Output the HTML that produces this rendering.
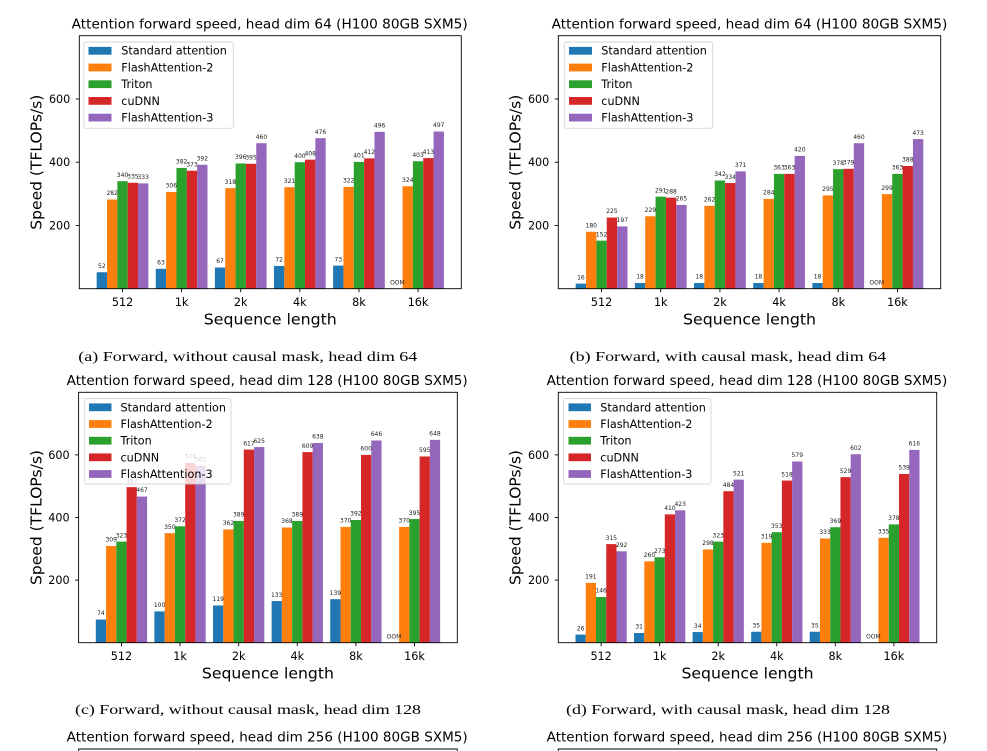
<!DOCTYPE html>
<html><head><meta charset="utf-8"><style>
html,body{margin:0;padding:0;background:#fff;}
svg{display:block;}
text{font-family:"DejaVu Sans","Liberation Sans",sans-serif;fill:#000;}
.c0{fill:#1f77b4}.c1{fill:#ff7f0e}.c2{fill:#2ca02c}.c3{fill:#d62728}.c4{fill:#9467bd}
.bl{font-size:6px;text-anchor:middle;fill:#222}
.tk{font-size:11.2px;text-anchor:middle}
.yt{font-size:11.2px;text-anchor:end}
.lg{font-size:11.2px}
.ti{font-size:13.5px}
.xl{font-size:15.5px;text-anchor:middle}
.yl{font-size:15.5px;text-anchor:middle}
.cap{font-family:"Liberation Serif","DejaVu Serif",serif;font-size:14px}
.sp{fill:none;stroke:#000;stroke-width:0.9}
.tm{stroke:#000;stroke-width:0.9}
.lb{fill:#fff;fill-opacity:0.8;stroke:#ccc;stroke-opacity:0.8;stroke-width:0.9}
</style></head><body>
<svg width="987" height="751" viewBox="0 0 987 751" xmlns="http://www.w3.org/2000/svg">
<rect width="987" height="751" fill="#fff"/>

<!-- ================= CHART A ================= -->
<text class="ti" x="71.7" y="28.4" textLength="396" lengthAdjust="spacingAndGlyphs">Attention forward speed, head dim 64 (H100 80GB SXM5)</text>
<g transform="translate(96.66,288.7) scale(1,0.31625)">
<rect class="c0" x="0" y="-52" width="10.34" height="52"/><rect class="c1" x="10.34" y="-282" width="10.34" height="282"/><rect class="c2" x="20.68" y="-340" width="10.34" height="340"/><rect class="c3" x="31.02" y="-335" width="10.34" height="335"/><rect class="c4" x="41.36" y="-333" width="10.34" height="333"/>
<text class="bl" transform="translate(5.17,-52) scale(1,3.16206)" y="-4.3">52</text><text class="bl" transform="translate(15.51,-282) scale(1,3.16206)" y="-4.3">282</text><text class="bl" transform="translate(25.85,-340) scale(1,3.16206)" y="-4.3">340</text><text class="bl" transform="translate(36.19,-335) scale(1,3.16206)" y="-4.3">335</text><text class="bl" transform="translate(46.53,-333) scale(1,3.16206)" y="-4.3">333</text>
</g>
<g transform="translate(155.77,288.7) scale(1,0.31625)">
<rect class="c0" x="0" y="-63" width="10.34" height="63"/><rect class="c1" x="10.34" y="-306" width="10.34" height="306"/><rect class="c2" x="20.68" y="-382" width="10.34" height="382"/><rect class="c3" x="31.02" y="-373" width="10.34" height="373"/><rect class="c4" x="41.36" y="-392" width="10.34" height="392"/>
<text class="bl" transform="translate(5.17,-63) scale(1,3.16206)" y="-4.3">63</text><text class="bl" transform="translate(15.51,-306) scale(1,3.16206)" y="-4.3">306</text><text class="bl" transform="translate(25.85,-382) scale(1,3.16206)" y="-4.3">382</text><text class="bl" transform="translate(36.19,-373) scale(1,3.16206)" y="-4.3">373</text><text class="bl" transform="translate(46.53,-392) scale(1,3.16206)" y="-4.3">392</text>
</g>
<g transform="translate(214.88,288.7) scale(1,0.31625)">
<rect class="c0" x="0" y="-67" width="10.34" height="67"/><rect class="c1" x="10.34" y="-318" width="10.34" height="318"/><rect class="c2" x="20.68" y="-396" width="10.34" height="396"/><rect class="c3" x="31.02" y="-395" width="10.34" height="395"/><rect class="c4" x="41.36" y="-460" width="10.34" height="460"/>
<text class="bl" transform="translate(5.17,-67) scale(1,3.16206)" y="-4.3">67</text><text class="bl" transform="translate(15.51,-318) scale(1,3.16206)" y="-4.3">318</text><text class="bl" transform="translate(25.85,-396) scale(1,3.16206)" y="-4.3">396</text><text class="bl" transform="translate(36.19,-395) scale(1,3.16206)" y="-4.3">395</text><text class="bl" transform="translate(46.53,-460) scale(1,3.16206)" y="-4.3">460</text>
</g>
<g transform="translate(273.99,288.7) scale(1,0.31625)">
<rect class="c0" x="0" y="-72" width="10.34" height="72"/><rect class="c1" x="10.34" y="-321" width="10.34" height="321"/><rect class="c2" x="20.68" y="-400" width="10.34" height="400"/><rect class="c3" x="31.02" y="-408" width="10.34" height="408"/><rect class="c4" x="41.36" y="-476" width="10.34" height="476"/>
<text class="bl" transform="translate(5.17,-72) scale(1,3.16206)" y="-4.3">72</text><text class="bl" transform="translate(15.51,-321) scale(1,3.16206)" y="-4.3">321</text><text class="bl" transform="translate(25.85,-400) scale(1,3.16206)" y="-4.3">400</text><text class="bl" transform="translate(36.19,-408) scale(1,3.16206)" y="-4.3">408</text><text class="bl" transform="translate(46.53,-476) scale(1,3.16206)" y="-4.3">476</text>
</g>
<g transform="translate(333.10,288.7) scale(1,0.31625)">
<rect class="c0" x="0" y="-73" width="10.34" height="73"/><rect class="c1" x="10.34" y="-322" width="10.34" height="322"/><rect class="c2" x="20.68" y="-401" width="10.34" height="401"/><rect class="c3" x="31.02" y="-412" width="10.34" height="412"/><rect class="c4" x="41.36" y="-496" width="10.34" height="496"/>
<text class="bl" transform="translate(5.17,-73) scale(1,3.16206)" y="-4.3">73</text><text class="bl" transform="translate(15.51,-322) scale(1,3.16206)" y="-4.3">322</text><text class="bl" transform="translate(25.85,-401) scale(1,3.16206)" y="-4.3">401</text><text class="bl" transform="translate(36.19,-412) scale(1,3.16206)" y="-4.3">412</text><text class="bl" transform="translate(46.53,-496) scale(1,3.16206)" y="-4.3">496</text>
</g>
<g transform="translate(392.21,288.7) scale(1,0.31625)">
<rect class="c1" x="10.34" y="-324" width="10.34" height="324"/><rect class="c2" x="20.68" y="-403" width="10.34" height="403"/><rect class="c3" x="31.02" y="-413" width="10.34" height="413"/><rect class="c4" x="41.36" y="-497" width="10.34" height="497"/>
<text class="bl" transform="translate(5.17,0) scale(1,3.16206)" y="-4.3">OOM</text><text class="bl" transform="translate(15.51,-324) scale(1,3.16206)" y="-4.3">324</text><text class="bl" transform="translate(25.85,-403) scale(1,3.16206)" y="-4.3">403</text><text class="bl" transform="translate(36.19,-413) scale(1,3.16206)" y="-4.3">413</text><text class="bl" transform="translate(46.53,-497) scale(1,3.16206)" y="-4.3">497</text>
</g>
<rect class="sp" x="79.3" y="35.7" width="382" height="253"/>
<g class="tm">
<line x1="122.51" y1="288.7" x2="122.51" y2="292.2"/><line x1="181.62" y1="288.7" x2="181.62" y2="292.2"/><line x1="240.73" y1="288.7" x2="240.73" y2="292.2"/><line x1="299.84" y1="288.7" x2="299.84" y2="292.2"/><line x1="358.95" y1="288.7" x2="358.95" y2="292.2"/><line x1="418.06" y1="288.7" x2="418.06" y2="292.2"/>
<line x1="75.8" y1="225.45" x2="79.3" y2="225.45"/><line x1="75.8" y1="162.2" x2="79.3" y2="162.2"/><line x1="75.8" y1="98.95" x2="79.3" y2="98.95"/>
</g>
<text class="tk" x="122.51" y="306">512</text><text class="tk" x="181.62" y="306">1k</text><text class="tk" x="240.73" y="306">2k</text><text class="tk" x="299.84" y="306">4k</text><text class="tk" x="358.95" y="306">8k</text><text class="tk" x="418.06" y="306">16k</text>
<text class="yt" x="70.3" y="229.45">200</text><text class="yt" x="70.3" y="166.2">400</text><text class="yt" x="70.3" y="102.95">600</text>
<text class="xl" x="270.3" y="324.3" textLength="133" lengthAdjust="spacingAndGlyphs">Sequence length</text>
<text class="yl" transform="translate(41.6,162.2) rotate(-90)" textLength="135" lengthAdjust="spacingAndGlyphs">Speed (TFLOPs/s)</text>
<rect class="lb" x="83.8" y="42" width="149.5" height="86.3" rx="2.5"/>
<rect class="c0" x="88.5" y="46.9" width="23" height="7.8"/><rect class="c1" x="88.5" y="63.6" width="23" height="7.8"/><rect class="c2" x="88.5" y="80.3" width="23" height="7.8"/><rect class="c3" x="88.5" y="97" width="23" height="7.8"/><rect class="c4" x="88.5" y="113.7" width="23" height="7.8"/>
<text class="lg" x="121.3" y="54.7">Standard attention</text><text class="lg" x="121.3" y="71.4">FlashAttention-2</text><text class="lg" x="121.3" y="88.1">Triton</text><text class="lg" x="121.3" y="104.8">cuDNN</text><text class="lg" x="121.3" y="121.5">FlashAttention-3</text>
<text class="cap" x="78.3" y="361" textLength="339" lengthAdjust="spacingAndGlyphs">(a) Forward, without causal mask, head dim 64</text>

<!-- ================= CHART B ================= -->
<text class="ti" x="551.7" y="28.4" textLength="395.6" lengthAdjust="spacingAndGlyphs">Attention forward speed, head dim 64 (H100 80GB SXM5)</text>
<g transform="translate(575.7,288.7) scale(1,0.31625)">
<rect class="c0" x="0" y="-16" width="10.35" height="16"/><rect class="c1" x="10.35" y="-180" width="10.35" height="180"/><rect class="c2" x="20.7" y="-152" width="10.35" height="152"/><rect class="c3" x="31.05" y="-225" width="10.35" height="225"/><rect class="c4" x="41.4" y="-197" width="10.35" height="197"/>
<text class="bl" transform="translate(5.175,-16) scale(1,3.16206)" y="-4.3">16</text><text class="bl" transform="translate(15.525,-180) scale(1,3.16206)" y="-4.3">180</text><text class="bl" transform="translate(25.875,-152) scale(1,3.16206)" y="-4.3">152</text><text class="bl" transform="translate(36.225,-225) scale(1,3.16206)" y="-4.3">225</text><text class="bl" transform="translate(46.575,-197) scale(1,3.16206)" y="-4.3">197</text>
</g>
<g transform="translate(634.87,288.7) scale(1,0.31625)">
<rect class="c0" x="0" y="-18" width="10.35" height="18"/><rect class="c1" x="10.35" y="-229" width="10.35" height="229"/><rect class="c2" x="20.7" y="-291" width="10.35" height="291"/><rect class="c3" x="31.05" y="-288" width="10.35" height="288"/><rect class="c4" x="41.4" y="-265" width="10.35" height="265"/>
<text class="bl" transform="translate(5.175,-18) scale(1,3.16206)" y="-4.3">18</text><text class="bl" transform="translate(15.525,-229) scale(1,3.16206)" y="-4.3">229</text><text class="bl" transform="translate(25.875,-291) scale(1,3.16206)" y="-4.3">291</text><text class="bl" transform="translate(36.225,-288) scale(1,3.16206)" y="-4.3">288</text><text class="bl" transform="translate(46.575,-265) scale(1,3.16206)" y="-4.3">265</text>
</g>
<g transform="translate(694.04,288.7) scale(1,0.31625)">
<rect class="c0" x="0" y="-18" width="10.35" height="18"/><rect class="c1" x="10.35" y="-262" width="10.35" height="262"/><rect class="c2" x="20.7" y="-342" width="10.35" height="342"/><rect class="c3" x="31.05" y="-334" width="10.35" height="334"/><rect class="c4" x="41.4" y="-371" width="10.35" height="371"/>
<text class="bl" transform="translate(5.175,-18) scale(1,3.16206)" y="-4.3">18</text><text class="bl" transform="translate(15.525,-262) scale(1,3.16206)" y="-4.3">262</text><text class="bl" transform="translate(25.875,-342) scale(1,3.16206)" y="-4.3">342</text><text class="bl" transform="translate(36.225,-334) scale(1,3.16206)" y="-4.3">334</text><text class="bl" transform="translate(46.575,-371) scale(1,3.16206)" y="-4.3">371</text>
</g>
<g transform="translate(753.21,288.7) scale(1,0.31625)">
<rect class="c0" x="0" y="-18" width="10.35" height="18"/><rect class="c1" x="10.35" y="-284" width="10.35" height="284"/><rect class="c2" x="20.7" y="-363" width="10.35" height="363"/><rect class="c3" x="31.05" y="-363" width="10.35" height="363"/><rect class="c4" x="41.4" y="-420" width="10.35" height="420"/>
<text class="bl" transform="translate(5.175,-18) scale(1,3.16206)" y="-4.3">18</text><text class="bl" transform="translate(15.525,-284) scale(1,3.16206)" y="-4.3">284</text><text class="bl" transform="translate(25.875,-363) scale(1,3.16206)" y="-4.3">363</text><text class="bl" transform="translate(36.225,-363) scale(1,3.16206)" y="-4.3">363</text><text class="bl" transform="translate(46.575,-420) scale(1,3.16206)" y="-4.3">420</text>
</g>
<g transform="translate(812.38,288.7) scale(1,0.31625)">
<rect class="c0" x="0" y="-18" width="10.35" height="18"/><rect class="c1" x="10.35" y="-295" width="10.35" height="295"/><rect class="c2" x="20.7" y="-378" width="10.35" height="378"/><rect class="c3" x="31.05" y="-379" width="10.35" height="379"/><rect class="c4" x="41.4" y="-460" width="10.35" height="460"/>
<text class="bl" transform="translate(5.175,-18) scale(1,3.16206)" y="-4.3">18</text><text class="bl" transform="translate(15.525,-295) scale(1,3.16206)" y="-4.3">295</text><text class="bl" transform="translate(25.875,-378) scale(1,3.16206)" y="-4.3">378</text><text class="bl" transform="translate(36.225,-379) scale(1,3.16206)" y="-4.3">379</text><text class="bl" transform="translate(46.575,-460) scale(1,3.16206)" y="-4.3">460</text>
</g>
<g transform="translate(871.55,288.7) scale(1,0.31625)">
<rect class="c1" x="10.35" y="-299" width="10.35" height="299"/><rect class="c2" x="20.7" y="-363" width="10.35" height="363"/><rect class="c3" x="31.05" y="-388" width="10.35" height="388"/><rect class="c4" x="41.4" y="-473" width="10.35" height="473"/>
<text class="bl" transform="translate(5.175,0) scale(1,3.16206)" y="-4.3">OOM</text><text class="bl" transform="translate(15.525,-299) scale(1,3.16206)" y="-4.3">299</text><text class="bl" transform="translate(25.875,-363) scale(1,3.16206)" y="-4.3">363</text><text class="bl" transform="translate(36.225,-388) scale(1,3.16206)" y="-4.3">388</text><text class="bl" transform="translate(46.575,-473) scale(1,3.16206)" y="-4.3">473</text>
</g>
<rect class="sp" x="558.3" y="35.7" width="382.4" height="253"/>
<g class="tm">
<line x1="601.58" y1="288.7" x2="601.58" y2="292.2"/><line x1="660.75" y1="288.7" x2="660.75" y2="292.2"/><line x1="719.92" y1="288.7" x2="719.92" y2="292.2"/><line x1="779.09" y1="288.7" x2="779.09" y2="292.2"/><line x1="838.26" y1="288.7" x2="838.26" y2="292.2"/><line x1="897.43" y1="288.7" x2="897.43" y2="292.2"/>
<line x1="554.8" y1="225.45" x2="558.3" y2="225.45"/><line x1="554.8" y1="162.2" x2="558.3" y2="162.2"/><line x1="554.8" y1="98.95" x2="558.3" y2="98.95"/>
</g>
<text class="tk" x="601.58" y="306">512</text><text class="tk" x="660.75" y="306">1k</text><text class="tk" x="719.92" y="306">2k</text><text class="tk" x="779.09" y="306">4k</text><text class="tk" x="838.26" y="306">8k</text><text class="tk" x="897.43" y="306">16k</text>
<text class="yt" x="549.3" y="229.45">200</text><text class="yt" x="549.3" y="166.2">400</text><text class="yt" x="549.3" y="102.95">600</text>
<text class="xl" x="749.5" y="324.3" textLength="133" lengthAdjust="spacingAndGlyphs">Sequence length</text>
<text class="yl" transform="translate(520.6,162.2) rotate(-90)" textLength="135" lengthAdjust="spacingAndGlyphs">Speed (TFLOPs/s)</text>
<rect class="lb" x="564.3" y="42" width="148.4" height="86.3" rx="2.5"/>
<rect class="c0" x="569" y="46.9" width="23" height="7.8"/><rect class="c1" x="569" y="63.6" width="23" height="7.8"/><rect class="c2" x="569" y="80.3" width="23" height="7.8"/><rect class="c3" x="569" y="97" width="23" height="7.8"/><rect class="c4" x="569" y="113.7" width="23" height="7.8"/>
<text class="lg" x="601.3" y="54.7">Standard attention</text><text class="lg" x="601.3" y="71.4">FlashAttention-2</text><text class="lg" x="601.3" y="88.1">Triton</text><text class="lg" x="601.3" y="104.8">cuDNN</text><text class="lg" x="601.3" y="121.5">FlashAttention-3</text>
<text class="cap" x="569.7" y="361" textLength="316.5" lengthAdjust="spacingAndGlyphs">(b) Forward, with causal mask, head dim 64</text>

<!-- ================= CHART C ================= -->
<text class="ti" x="66.7" y="385" textLength="401" lengthAdjust="spacingAndGlyphs">Attention forward speed, head dim 128 (H100 80GB SXM5)</text>
<g transform="translate(95.8,642.7) scale(1,0.313)">
<rect class="c0" x="0" y="-74" width="10.26" height="74"/><rect class="c1" x="10.26" y="-309" width="10.26" height="309"/><rect class="c2" x="20.52" y="-323" width="10.26" height="323"/><rect class="c3" x="30.78" y="-497" width="10.26" height="497"/><rect class="c4" x="41.04" y="-467" width="10.26" height="467"/>
<text class="bl" transform="translate(5.13,-74) scale(1,3.19489)" y="-4.3">74</text><text class="bl" transform="translate(15.39,-309) scale(1,3.19489)" y="-4.3">309</text><text class="bl" transform="translate(25.65,-323) scale(1,3.19489)" y="-4.3">323</text><text class="bl" transform="translate(35.91,-497) scale(1,3.19489)" y="-4.3">497</text><text class="bl" transform="translate(46.17,-467) scale(1,3.19489)" y="-4.3">467</text>
</g>
<g transform="translate(154.41,642.7) scale(1,0.313)">
<rect class="c0" x="0" y="-100" width="10.26" height="100"/><rect class="c1" x="10.26" y="-350" width="10.26" height="350"/><rect class="c2" x="20.52" y="-372" width="10.26" height="372"/><rect class="c3" x="30.78" y="-574" width="10.26" height="574"/><rect class="c4" x="41.04" y="-565" width="10.26" height="565"/>
<text class="bl" transform="translate(5.13,-100) scale(1,3.19489)" y="-4.3">100</text><text class="bl" transform="translate(15.39,-350) scale(1,3.19489)" y="-4.3">350</text><text class="bl" transform="translate(25.65,-372) scale(1,3.19489)" y="-4.3">372</text><text class="bl" transform="translate(35.91,-574) scale(1,3.19489)" y="-4.3">574</text><text class="bl" transform="translate(46.17,-565) scale(1,3.19489)" y="-4.3">565</text>
</g>
<g transform="translate(213.02,642.7) scale(1,0.313)">
<rect class="c0" x="0" y="-119" width="10.26" height="119"/><rect class="c1" x="10.26" y="-362" width="10.26" height="362"/><rect class="c2" x="20.52" y="-389" width="10.26" height="389"/><rect class="c3" x="30.78" y="-617" width="10.26" height="617"/><rect class="c4" x="41.04" y="-625" width="10.26" height="625"/>
<text class="bl" transform="translate(5.13,-119) scale(1,3.19489)" y="-4.3">119</text><text class="bl" transform="translate(15.39,-362) scale(1,3.19489)" y="-4.3">362</text><text class="bl" transform="translate(25.65,-389) scale(1,3.19489)" y="-4.3">389</text><text class="bl" transform="translate(35.91,-617) scale(1,3.19489)" y="-4.3">617</text><text class="bl" transform="translate(46.17,-625) scale(1,3.19489)" y="-4.3">625</text>
</g>
<g transform="translate(271.63,642.7) scale(1,0.313)">
<rect class="c0" x="0" y="-133" width="10.26" height="133"/><rect class="c1" x="10.26" y="-368" width="10.26" height="368"/><rect class="c2" x="20.52" y="-389" width="10.26" height="389"/><rect class="c3" x="30.78" y="-609" width="10.26" height="609"/><rect class="c4" x="41.04" y="-638" width="10.26" height="638"/>
<text class="bl" transform="translate(5.13,-133) scale(1,3.19489)" y="-4.3">133</text><text class="bl" transform="translate(15.39,-368) scale(1,3.19489)" y="-4.3">368</text><text class="bl" transform="translate(25.65,-389) scale(1,3.19489)" y="-4.3">389</text><text class="bl" transform="translate(35.91,-609) scale(1,3.19489)" y="-4.3">609</text><text class="bl" transform="translate(46.17,-638) scale(1,3.19489)" y="-4.3">638</text>
</g>
<g transform="translate(330.24,642.7) scale(1,0.313)">
<rect class="c0" x="0" y="-139" width="10.26" height="139"/><rect class="c1" x="10.26" y="-370" width="10.26" height="370"/><rect class="c2" x="20.52" y="-392" width="10.26" height="392"/><rect class="c3" x="30.78" y="-600" width="10.26" height="600"/><rect class="c4" x="41.04" y="-646" width="10.26" height="646"/>
<text class="bl" transform="translate(5.13,-139) scale(1,3.19489)" y="-4.3">139</text><text class="bl" transform="translate(15.39,-370) scale(1,3.19489)" y="-4.3">370</text><text class="bl" transform="translate(25.65,-392) scale(1,3.19489)" y="-4.3">392</text><text class="bl" transform="translate(35.91,-600) scale(1,3.19489)" y="-4.3">600</text><text class="bl" transform="translate(46.17,-646) scale(1,3.19489)" y="-4.3">646</text>
</g>
<g transform="translate(388.85,642.7) scale(1,0.313)">
<rect class="c1" x="10.26" y="-370" width="10.26" height="370"/><rect class="c2" x="20.52" y="-395" width="10.26" height="395"/><rect class="c3" x="30.78" y="-595" width="10.26" height="595"/><rect class="c4" x="41.04" y="-648" width="10.26" height="648"/>
<text class="bl" transform="translate(5.13,0) scale(1,3.19489)" y="-4.3">OOM</text><text class="bl" transform="translate(15.39,-370) scale(1,3.19489)" y="-4.3">370</text><text class="bl" transform="translate(25.65,-395) scale(1,3.19489)" y="-4.3">395</text><text class="bl" transform="translate(35.91,-595) scale(1,3.19489)" y="-4.3">595</text><text class="bl" transform="translate(46.17,-648) scale(1,3.19489)" y="-4.3">648</text>
</g>
<rect class="sp" x="78.6" y="392.3" width="378.7" height="250.4"/>
<g class="tm">
<line x1="121.45" y1="642.7" x2="121.45" y2="646.2"/><line x1="180.06" y1="642.7" x2="180.06" y2="646.2"/><line x1="238.67" y1="642.7" x2="238.67" y2="646.2"/><line x1="297.28" y1="642.7" x2="297.28" y2="646.2"/><line x1="355.89" y1="642.7" x2="355.89" y2="646.2"/><line x1="414.5" y1="642.7" x2="414.5" y2="646.2"/>
<line x1="75.1" y1="580.1" x2="78.6" y2="580.1"/><line x1="75.1" y1="517.5" x2="78.6" y2="517.5"/><line x1="75.1" y1="454.9" x2="78.6" y2="454.9"/>
</g>
<text class="tk" x="121.45" y="660">512</text><text class="tk" x="180.06" y="660">1k</text><text class="tk" x="238.67" y="660">2k</text><text class="tk" x="297.28" y="660">4k</text><text class="tk" x="355.89" y="660">8k</text><text class="tk" x="414.5" y="660">16k</text>
<text class="yt" x="69.6" y="584.1">200</text><text class="yt" x="69.6" y="521.5">400</text><text class="yt" x="69.6" y="458.9">600</text>
<text class="xl" x="267.9" y="678.3" textLength="132" lengthAdjust="spacingAndGlyphs">Sequence length</text>
<text class="yl" transform="translate(41.3,517.5) rotate(-90)" textLength="135" lengthAdjust="spacingAndGlyphs">Speed (TFLOPs/s)</text>
<rect class="lb" x="84.3" y="398.5" width="146.7" height="85.5" rx="2.5"/>
<rect class="c0" x="89" y="403.4" width="22.5" height="7.8"/><rect class="c1" x="89" y="420.1" width="22.5" height="7.8"/><rect class="c2" x="89" y="436.8" width="22.5" height="7.8"/><rect class="c3" x="89" y="453.4" width="22.5" height="7.8"/><rect class="c4" x="89" y="470.1" width="22.5" height="7.8"/>
<text class="lg" x="120.5" y="411.3">Standard attention</text><text class="lg" x="120.5" y="428">FlashAttention-2</text><text class="lg" x="120.5" y="444.7">Triton</text><text class="lg" x="120.5" y="461.3">cuDNN</text><text class="lg" x="120.5" y="478">FlashAttention-3</text>
<text class="cap" x="75" y="714" textLength="346" lengthAdjust="spacingAndGlyphs">(c) Forward, without causal mask, head dim 128</text>

<!-- ================= CHART D ================= -->
<text class="ti" x="546.7" y="385" textLength="400.6" lengthAdjust="spacingAndGlyphs">Attention forward speed, head dim 128 (H100 80GB SXM5)</text>
<g transform="translate(575.5,642.7) scale(1,0.313)">
<rect class="c0" x="0" y="-26" width="10.25" height="26"/><rect class="c1" x="10.25" y="-191" width="10.25" height="191"/><rect class="c2" x="20.5" y="-146" width="10.25" height="146"/><rect class="c3" x="30.75" y="-315" width="10.25" height="315"/><rect class="c4" x="41" y="-292" width="10.25" height="292"/>
<text class="bl" transform="translate(5.125,-26) scale(1,3.19489)" y="-4.3">26</text><text class="bl" transform="translate(15.375,-191) scale(1,3.19489)" y="-4.3">191</text><text class="bl" transform="translate(25.625,-146) scale(1,3.19489)" y="-4.3">146</text><text class="bl" transform="translate(35.875,-315) scale(1,3.19489)" y="-4.3">315</text><text class="bl" transform="translate(46.125,-292) scale(1,3.19489)" y="-4.3">292</text>
</g>
<g transform="translate(634.05,642.7) scale(1,0.313)">
<rect class="c0" x="0" y="-31" width="10.25" height="31"/><rect class="c1" x="10.25" y="-260" width="10.25" height="260"/><rect class="c2" x="20.5" y="-273" width="10.25" height="273"/><rect class="c3" x="30.75" y="-410" width="10.25" height="410"/><rect class="c4" x="41" y="-423" width="10.25" height="423"/>
<text class="bl" transform="translate(5.125,-31) scale(1,3.19489)" y="-4.3">31</text><text class="bl" transform="translate(15.375,-260) scale(1,3.19489)" y="-4.3">260</text><text class="bl" transform="translate(25.625,-273) scale(1,3.19489)" y="-4.3">273</text><text class="bl" transform="translate(35.875,-410) scale(1,3.19489)" y="-4.3">410</text><text class="bl" transform="translate(46.125,-423) scale(1,3.19489)" y="-4.3">423</text>
</g>
<g transform="translate(692.6,642.7) scale(1,0.313)">
<rect class="c0" x="0" y="-34" width="10.25" height="34"/><rect class="c1" x="10.25" y="-298" width="10.25" height="298"/><rect class="c2" x="20.5" y="-323" width="10.25" height="323"/><rect class="c3" x="30.75" y="-484" width="10.25" height="484"/><rect class="c4" x="41" y="-521" width="10.25" height="521"/>
<text class="bl" transform="translate(5.125,-34) scale(1,3.19489)" y="-4.3">34</text><text class="bl" transform="translate(15.375,-298) scale(1,3.19489)" y="-4.3">298</text><text class="bl" transform="translate(25.625,-323) scale(1,3.19489)" y="-4.3">323</text><text class="bl" transform="translate(35.875,-484) scale(1,3.19489)" y="-4.3">484</text><text class="bl" transform="translate(46.125,-521) scale(1,3.19489)" y="-4.3">521</text>
</g>
<g transform="translate(751.15,642.7) scale(1,0.313)">
<rect class="c0" x="0" y="-35" width="10.25" height="35"/><rect class="c1" x="10.25" y="-319" width="10.25" height="319"/><rect class="c2" x="20.5" y="-353" width="10.25" height="353"/><rect class="c3" x="30.75" y="-518" width="10.25" height="518"/><rect class="c4" x="41" y="-579" width="10.25" height="579"/>
<text class="bl" transform="translate(5.125,-35) scale(1,3.19489)" y="-4.3">35</text><text class="bl" transform="translate(15.375,-319) scale(1,3.19489)" y="-4.3">319</text><text class="bl" transform="translate(25.625,-353) scale(1,3.19489)" y="-4.3">353</text><text class="bl" transform="translate(35.875,-518) scale(1,3.19489)" y="-4.3">518</text><text class="bl" transform="translate(46.125,-579) scale(1,3.19489)" y="-4.3">579</text>
</g>
<g transform="translate(809.7,642.7) scale(1,0.313)">
<rect class="c0" x="0" y="-35" width="10.25" height="35"/><rect class="c1" x="10.25" y="-333" width="10.25" height="333"/><rect class="c2" x="20.5" y="-369" width="10.25" height="369"/><rect class="c3" x="30.75" y="-529" width="10.25" height="529"/><rect class="c4" x="41" y="-602" width="10.25" height="602"/>
<text class="bl" transform="translate(5.125,-35) scale(1,3.19489)" y="-4.3">35</text><text class="bl" transform="translate(15.375,-333) scale(1,3.19489)" y="-4.3">333</text><text class="bl" transform="translate(25.625,-369) scale(1,3.19489)" y="-4.3">369</text><text class="bl" transform="translate(35.875,-529) scale(1,3.19489)" y="-4.3">529</text><text class="bl" transform="translate(46.125,-602) scale(1,3.19489)" y="-4.3">602</text>
</g>
<g transform="translate(868.25,642.7) scale(1,0.313)">
<rect class="c1" x="10.25" y="-335" width="10.25" height="335"/><rect class="c2" x="20.5" y="-378" width="10.25" height="378"/><rect class="c3" x="30.75" y="-539" width="10.25" height="539"/><rect class="c4" x="41" y="-616" width="10.25" height="616"/>
<text class="bl" transform="translate(5.125,0) scale(1,3.19489)" y="-4.3">OOM</text><text class="bl" transform="translate(15.375,-335) scale(1,3.19489)" y="-4.3">335</text><text class="bl" transform="translate(25.625,-378) scale(1,3.19489)" y="-4.3">378</text><text class="bl" transform="translate(35.875,-539) scale(1,3.19489)" y="-4.3">539</text><text class="bl" transform="translate(46.125,-616) scale(1,3.19489)" y="-4.3">616</text>
</g>
<rect class="sp" x="558.3" y="392.3" width="378.4" height="250.4"/>
<g class="tm">
<line x1="601.13" y1="642.7" x2="601.13" y2="646.2"/><line x1="659.68" y1="642.7" x2="659.68" y2="646.2"/><line x1="718.23" y1="642.7" x2="718.23" y2="646.2"/><line x1="776.78" y1="642.7" x2="776.78" y2="646.2"/><line x1="835.33" y1="642.7" x2="835.33" y2="646.2"/><line x1="893.88" y1="642.7" x2="893.88" y2="646.2"/>
<line x1="554.8" y1="580.1" x2="558.3" y2="580.1"/><line x1="554.8" y1="517.5" x2="558.3" y2="517.5"/><line x1="554.8" y1="454.9" x2="558.3" y2="454.9"/>
</g>
<text class="tk" x="601.13" y="660">512</text><text class="tk" x="659.68" y="660">1k</text><text class="tk" x="718.23" y="660">2k</text><text class="tk" x="776.78" y="660">4k</text><text class="tk" x="835.33" y="660">8k</text><text class="tk" x="893.88" y="660">16k</text>
<text class="yt" x="549.3" y="584.1">200</text><text class="yt" x="549.3" y="521.5">400</text><text class="yt" x="549.3" y="458.9">600</text>
<text class="xl" x="747.5" y="678.3" textLength="132" lengthAdjust="spacingAndGlyphs">Sequence length</text>
<text class="yl" transform="translate(520.6,517.5) rotate(-90)" textLength="135" lengthAdjust="spacingAndGlyphs">Speed (TFLOPs/s)</text>
<rect class="lb" x="563.5" y="398.5" width="147.5" height="85.5" rx="2.5"/>
<rect class="c0" x="568.5" y="403.4" width="22.5" height="7.8"/><rect class="c1" x="568.5" y="420.1" width="22.5" height="7.8"/><rect class="c2" x="568.5" y="436.8" width="22.5" height="7.8"/><rect class="c3" x="568.5" y="453.4" width="22.5" height="7.8"/><rect class="c4" x="568.5" y="470.1" width="22.5" height="7.8"/>
<text class="lg" x="600.3" y="411.3">Standard attention</text><text class="lg" x="600.3" y="428">FlashAttention-2</text><text class="lg" x="600.3" y="444.7">Triton</text><text class="lg" x="600.3" y="461.3">cuDNN</text><text class="lg" x="600.3" y="478">FlashAttention-3</text>
<text class="cap" x="566" y="714" textLength="324" lengthAdjust="spacingAndGlyphs">(d) Forward, with causal mask, head dim 128</text>

<!-- ================= BOTTOM PARTIAL ROW ================= -->
<text class="ti" x="66.7" y="741.5" textLength="401" lengthAdjust="spacingAndGlyphs">Attention forward speed, head dim 256 (H100 80GB SXM5)</text>
<text class="ti" x="546.7" y="741.5" textLength="400.6" lengthAdjust="spacingAndGlyphs">Attention forward speed, head dim 256 (H100 80GB SXM5)</text>
<path class="sp" d="M78.6,760 V749 H457.3 V760"/>
<path class="sp" d="M558.3,760 V749 H936.7 V760"/>
</svg>
</body></html>
